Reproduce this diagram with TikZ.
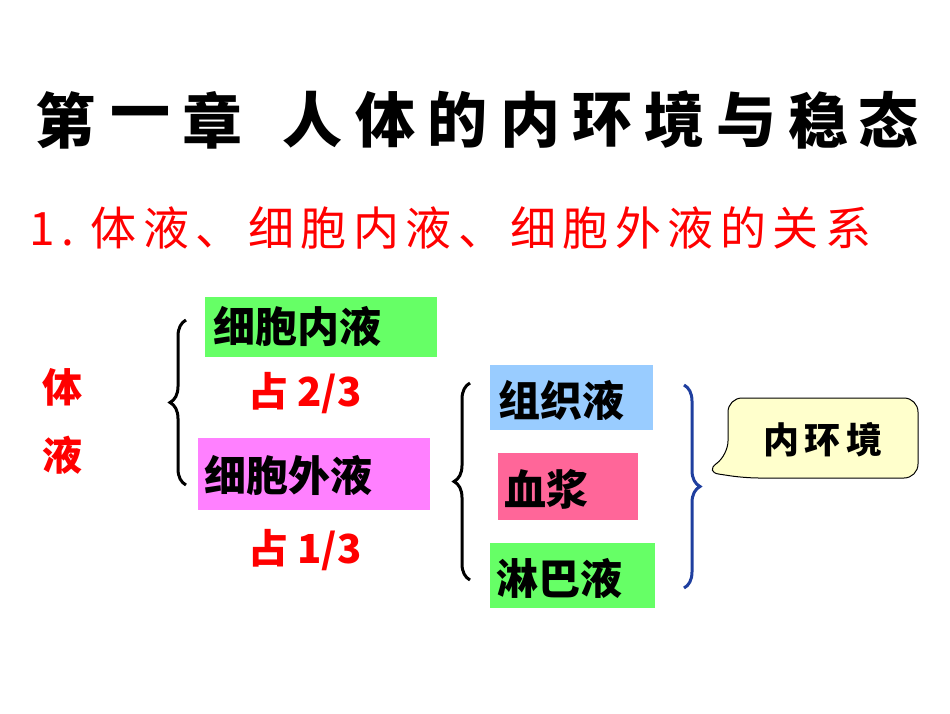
\documentclass[tikz,border=0pt]{standalone}
\usepackage{fontspec}
\setmainfont{Noto Sans CJK SC}
\newfontfamily\cjk{Noto Sans CJK SC}
\usetikzlibrary{decorations.pathreplacing,shapes.callouts}
\definecolor{gbox}{HTML}{66FF66}
\definecolor{mbox}{HTML}{FF80FF}
\definecolor{bbox}{HTML}{99CCFF}
\definecolor{pbox}{HTML}{FF6699}
\definecolor{redt}{HTML}{FF0000}
\definecolor{navy}{HTML}{1F3F9F}
\definecolor{callfill}{HTML}{FFFFCC}
\tikzset{
 boxt/.style={font=\cjk\bfseries\fontsize{42}{46}\selectfont,text=black,inner sep=0pt,anchor=west},
 redl/.style={font=\cjk\bfseries\fontsize{40}{44}\selectfont,text=redt},
 titlec/.style={font=\cjk\bfseries\fontsize{60}{64}\selectfont},
 brc/.style={decorate,decoration={brace,amplitude=16pt},line width=3pt},
}
\begin{document}
\begin{tikzpicture}[x=1pt,y=-1pt]
\useasboundingbox (0,0) rectangle (950,713);
\fill[white] (0,0) rectangle (950,713);
\foreach \c/\x [count=\i] in {第/65,一/140,章/212,人/312,体/385,的/457,内/530,环/602,境/674,与/746,稳/818,态/888}
  \node[titlec] (t\i) at (\x,120) {\c};
\node[font=\cjk\fontsize{46}{50}\selectfont\addfontfeature{LetterSpace=14},text=redt,anchor=west] (sub) at (26,228) {1.\ 体液、细胞内液、细胞外液的关系};
\fill[gbox] (205,297) rectangle (437,357);
\node[boxt] (a) at (213,327) {细胞内液};
\fill[mbox] (198,438) rectangle (430,510);
\node[boxt] (b) at (204,476) {细胞外液};
\node[redl] (r1) at (305,393) {占 2/3};
\node[redl] (r2) at (305,550) {占 1/3};
\node[redl] (ti) at (62,387) {体};
\node[redl] (ye) at (62,455) {液};
\fill[bbox] (490,365) rectangle (653,430);
\node[boxt] (c) at (498,400) {组织液};
\fill[pbox] (498,453) rectangle (638,520);
\node[boxt] (d) at (504,489) {血浆};
\fill[gbox] (490,543) rectangle (655,608);
\node[boxt] (e) at (496,578) {淋巴液};
\coordinate (l1) at (186,320); \coordinate (l2) at (186,485);
\draw[brc] (l2) -- (l1);
\coordinate (m1) at (470,383); \coordinate (m2) at (470,580);
\draw[brc] (m2) -- (m1);
\coordinate (n1) at (684,385); \coordinate (n2) at (684,588);
\draw[brc,navy] (n1) -- (n2);
\draw[fill=callfill,line width=1pt,rounded corners=14pt] (728,398) -- (918,398) -- (918,478) -- (745,478) -- (705,472) -- (728,455) -- cycle;
\node[font=\cjk\bfseries\fontsize{36}{40}\selectfont] (k) at (823,440) {内\,环\,境};
\end{tikzpicture}
\end{document}
